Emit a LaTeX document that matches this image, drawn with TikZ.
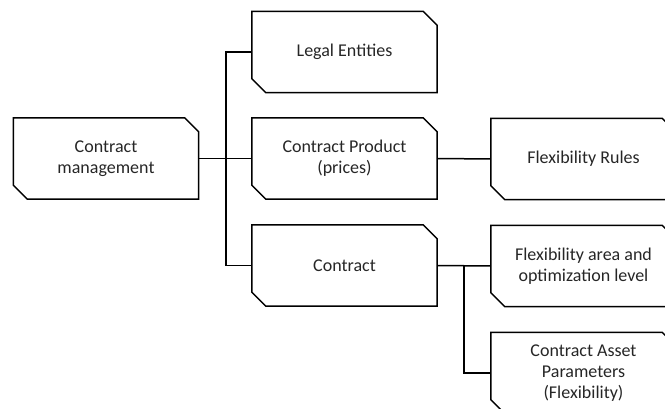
\documentclass[tikz,border=0pt]{standalone}
\usepackage{fontspec}
\setmainfont{Carlito}
\newcommand\chbox[1]{%
  \draw[boxline] (#1.north west) -- ([xshift=-14pt]#1.north east) -- ([yshift=-14pt]#1.north east)
    -- (#1.south east) -- ([xshift=14pt]#1.south west) -- ([yshift=14pt]#1.south west) -- cycle;}
\begin{document}
\begin{tikzpicture}[x=1pt,y=-1pt,
  box/.style={rectangle, minimum width=185pt, minimum height=81pt,
    inner sep=0pt, align=center, text=black!85,
    font=\fontsize{18}{21}\selectfont},
  boxline/.style={draw=black, line width=1.5pt, line join=miter},
  conn/.style={draw=black, line width=1.5pt}]
\useasboundingbox (0,0) rectangle (665,409);
\node[box] (cm) at (106,158.5) {Contract\\management};
\node[box] (le) at (344.5,52) {Legal Entities};
\node[box] (cp) at (344.5,158.5) {Contract Product\\(prices)};
\node[box] (ct) at (344.5,265.5) {Contract};
\node[box] (fr) at (583.5,159) {Flexibility Rules};
\node[box] (fa) at (583.5,266) {Flexibility area and\\optimization level};
\node[box] (ca) at (583.5,373) {Contract Asset\\Parameters\\(Flexibility)};
\foreach \n in {cm,le,cp,ct,fr,fa,ca} {\chbox{\n}}
\coordinate (t) at (226,0);
\coordinate (s) at (464,0);
\draw[conn] (cm.east) -- (cp.west);
\draw[conn] (le.west) -- (le.west -| t) -- (ct.west -| t) -- (ct.west);
\draw[conn] (cp.east) -- (fr.west);
\draw[conn] (ct.east) -- (fa.west);
\draw[conn] (ct.east -| s) -- (ca.west -| s) -- (ca.west);
\end{tikzpicture}
\end{document}
